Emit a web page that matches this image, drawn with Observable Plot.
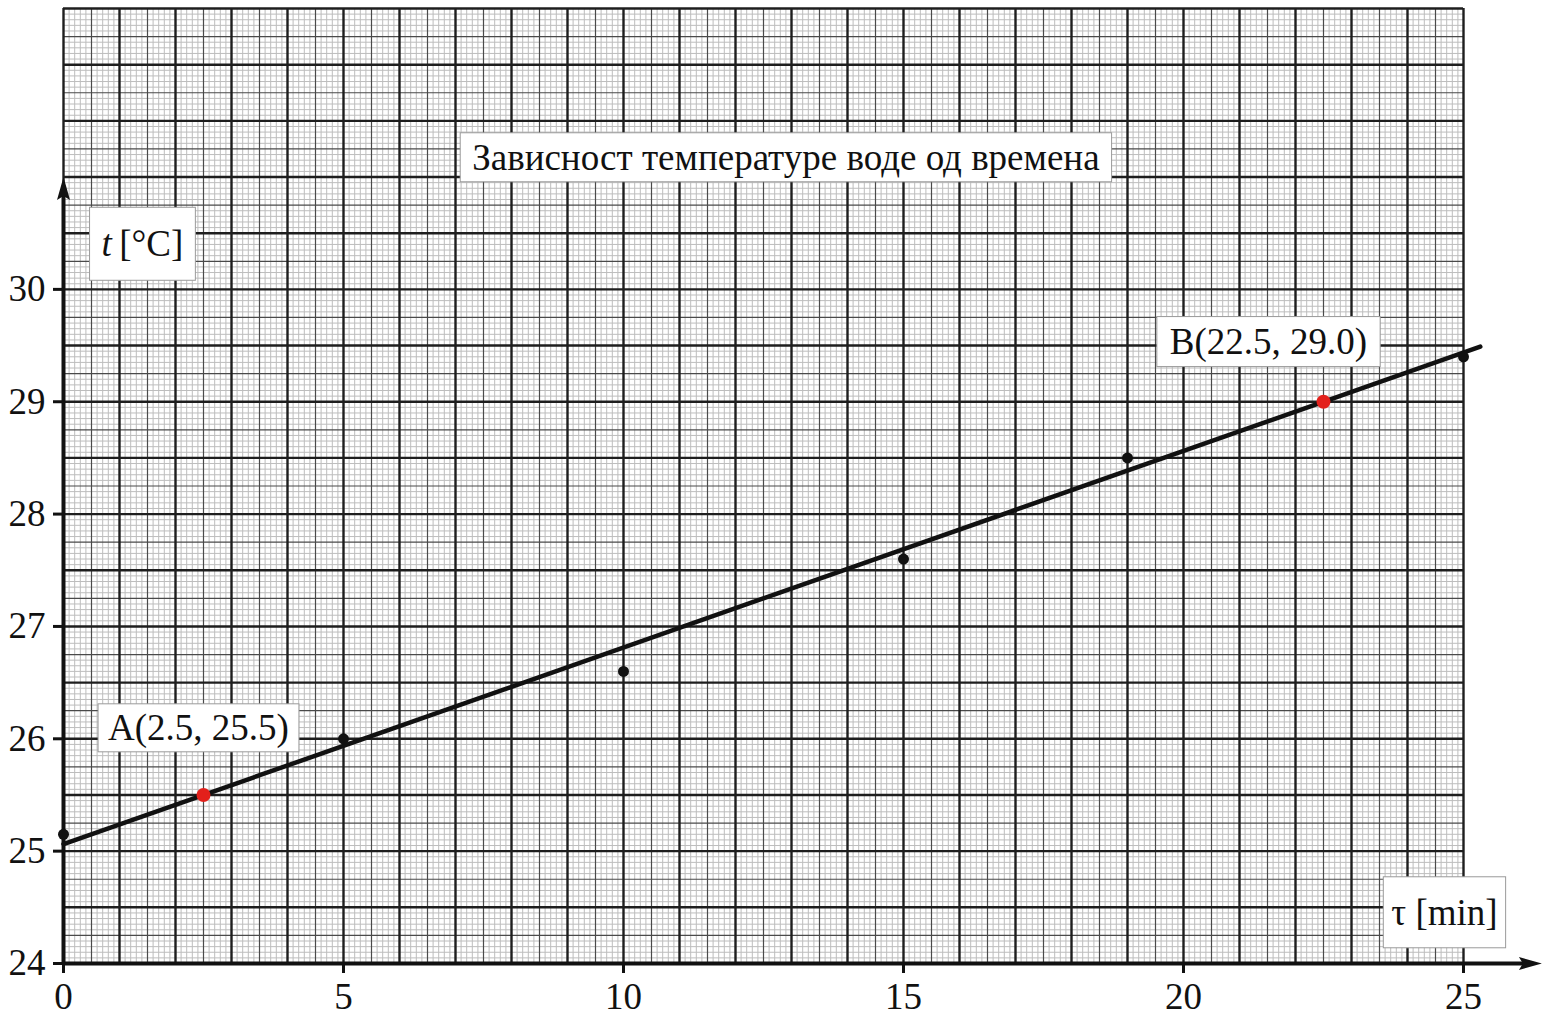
<!DOCTYPE html>
<html>
<head>
<meta charset="utf-8">
<script src="https://cdn.jsdelivr.net/npm/d3@7"></script>
<script src="https://cdn.jsdelivr.net/npm/@observablehq/plot@0.6"></script>
<style>
  body { margin: 0; background: #fff; }
  svg { display: block; }
</style>
</head>
<body>
<div id="chart"></div>
<script>
// ---- data ----
const tau = [0, 5, 10, 15, 19, 25];                 // τ [min]
const temp = [25.15, 26.0, 26.6, 27.6, 28.5, 29.4];  // t [°C]
const pointNames = ["A", "B"];
const pointTau = [2.5, 22.5];
const pointTemp = [25.5, 29.0];
const xTicks = [0, 5, 10, 15, 20, 25];
const yTicks = [24, 25, 26, 27, 28, 29, 30];
const titleText = "Зависност температуре воде од времена";
const yLabelText = "t [°C]";
const xLabelText = "τ [min]";

// ---- layout ----
const paperX = [0, 25];
const paperY = [24, 32.5];
const fitTauRange = [0, 25.3];
const FONT = "'Liberation Serif', 'Times New Roman', serif";
const FS = 37;

const measured = tau.map((x, i) => ({x, y: temp[i]}));
const points = pointNames.map((n, i) => ({
  name: n, x: pointTau[i], y: pointTemp[i],
  label: `${n}(${pointTau[i].toFixed(1)}, ${pointTemp[i].toFixed(1)})`
}));
const slope = (pointTemp[1] - pointTemp[0]) / (pointTau[1] - pointTau[0]);
const fit = fitTauRange.map(x => ({x, y: pointTemp[0] + slope * (x - pointTau[0])}));

// graph paper lines
const nx = Math.round((paperX[1] - paperX[0]) * 10);
const ny = Math.round((paperY[1] - paperY[0]) * 20);
const gx = d3.range(nx + 1);
const gy = d3.range(ny + 1);
const fineX = gx.filter(i => i % 5 !== 0).map(i => paperX[0] + i / 10);
const midX = gx.filter(i => i % 5 === 0 && i % 10 !== 0).map(i => paperX[0] + i / 10);
const boldX = gx.filter(i => i % 10 === 0).map(i => paperX[0] + i / 10);
const fineY = gy.filter(i => i % 5 !== 0).map(i => paperY[0] + i / 20);
const midY = gy.filter(i => i % 5 === 0 && i % 10 !== 0).map(i => paperY[0] + i / 20);
const boldY = gy.filter(i => i % 10 === 0).map(i => paperY[0] + i / 20);

// arrowhead symbol (tip at origin, pointing up)
const arrowHead = {
  draw(ctx) {
    ctx.moveTo(0, 0);
    ctx.lineTo(6.5, 23);
    ctx.lineTo(0, 19);
    ctx.lineTo(-6.5, 23);
    ctx.closePath();
  }
};

const notes = [
  {text: titleText, x: 12.9, y: 31.17, dx: 0, dy: 0, fontSize: FS, pad: [12, 4]},
  {text: yLabelText, x: 1.41, y: 30.4, dx: 0, dy: 0, fontSize: FS, pad: [12, 16]},
  {text: xLabelText, x: 24.66, y: 24.45, dx: 0, dy: 0, fontSize: FS, pad: [8, 15]},
  {text: points[0].label, x: points[0].x, y: points[0].y, dx: -5, dy: -67, fontSize: FS, pad: [10, 3]},
  {text: points[1].label, x: points[1].x, y: points[1].y, dx: -55, dy: -60, fontSize: FS, pad: [13, 4]}
];

const svg = Plot.plot({
  width: 1543,
  height: 1021,
  marginLeft: 63,
  marginRight: 80,
  marginTop: 8,
  marginBottom: 58,
  x: {domain: paperX},
  y: {domain: paperY},
  style: {fontFamily: FONT, fontSize: FS + "px", background: "#fff", color: "#111"},
  marks: [
    Plot.ruleX(fineX, {x: d => d, y1: paperY[0], y2: paperY[1], stroke: "#bdbdbd", strokeWidth: 1}),
    Plot.ruleY(fineY, {y: d => d, x1: paperX[0], x2: paperX[1], stroke: "#bdbdbd", strokeWidth: 1}),
    Plot.ruleX(midX, {x: d => d, y1: paperY[0], y2: paperY[1], stroke: "#4a4a4a", strokeWidth: 1.2}),
    Plot.ruleY(midY, {y: d => d, x1: paperX[0], x2: paperX[1], stroke: "#4a4a4a", strokeWidth: 1.2}),
    Plot.ruleX(boldX, {x: d => d, y1: paperY[0], y2: paperY[1], stroke: "#1e1e1e", strokeWidth: 2.4}),
    Plot.ruleY(boldY, {y: d => d, x1: paperX[0], x2: paperX[1], stroke: "#1e1e1e", strokeWidth: 2.4}),
    // axes with arrows
    Plot.ruleX([0], {y1: 24, y2: 30.85, stroke: "#111", strokeWidth: 4}),
    Plot.ruleY([24], {x1: 0, x2: 26.15, stroke: "#111", strokeWidth: 4}),
    Plot.dot([{x: 0, y: 31.0}], {x: "x", y: "y", symbol: arrowHead, fill: "#111", stroke: "none"}),
    Plot.dot([{x: 26.4, y: 24}], {x: "x", y: "y", symbol: arrowHead, rotate: 90, fill: "#111", stroke: "none"}),
    Plot.axisY(yTicks, {anchor: "left", tickSize: 10, tickPadding: 8, strokeWidth: 3, fontSize: FS, label: null, fill: "#111", tickFormat: d => String(d)}),
    Plot.axisX(xTicks, {anchor: "bottom", tickSize: 10, tickPadding: 9, strokeWidth: 3, fontSize: FS, label: null, fill: "#111", tickFormat: d => String(d)}),
    // fitted line and points
    Plot.line(fit, {x: "x", y: "y", stroke: "#111", strokeWidth: 4.5}),
    Plot.dot(measured, {x: "x", y: "y", r: 5.5, fill: "#111"}),
    Plot.dot(points, {x: "x", y: "y", r: 7, fill: "#e3201b"}),
    // annotations
    ...notes.map(n => Plot.text([n], {x: "x", y: "y", text: "text", dx: n.dx, dy: n.dy, fontSize: n.fontSize, fontFamily: FONT, fill: "#111"}))
  ]
});

document.getElementById("chart").appendChild(svg);

// italic t in y label, and white boxes behind the notes
const noteByText = new Map(notes.map(n => [n.text, n]));
svg.querySelectorAll("text").forEach(el => {
  const n = noteByText.get(el.textContent);
  if (!n) return;
  if (n.text === yLabelText) {
    el.textContent = "";
    const ns = "http://www.w3.org/2000/svg";
    const t1 = document.createElementNS(ns, "tspan");
    t1.setAttribute("font-style", "italic");
    t1.textContent = "t";
    const t2 = document.createElementNS(ns, "tspan");
    t2.textContent = "\u2009[°C]";
    el.appendChild(t1);
    el.appendChild(t2);
  }
  const bb = el.getBBox();
  const r = document.createElementNS("http://www.w3.org/2000/svg", "rect");
  r.setAttribute("x", bb.x - n.pad[0]);
  r.setAttribute("y", bb.y - n.pad[1]);
  r.setAttribute("width", bb.width + 2 * n.pad[0]);
  r.setAttribute("height", bb.height + 2 * n.pad[1]);
  r.setAttribute("fill", "#fff");
  r.setAttribute("stroke", "#9a9a9a");
  r.setAttribute("stroke-width", "1");
  if (el.getAttribute("transform")) r.setAttribute("transform", el.getAttribute("transform"));
  el.parentNode.insertBefore(r, el);
});
</script>
</body>
</html>
